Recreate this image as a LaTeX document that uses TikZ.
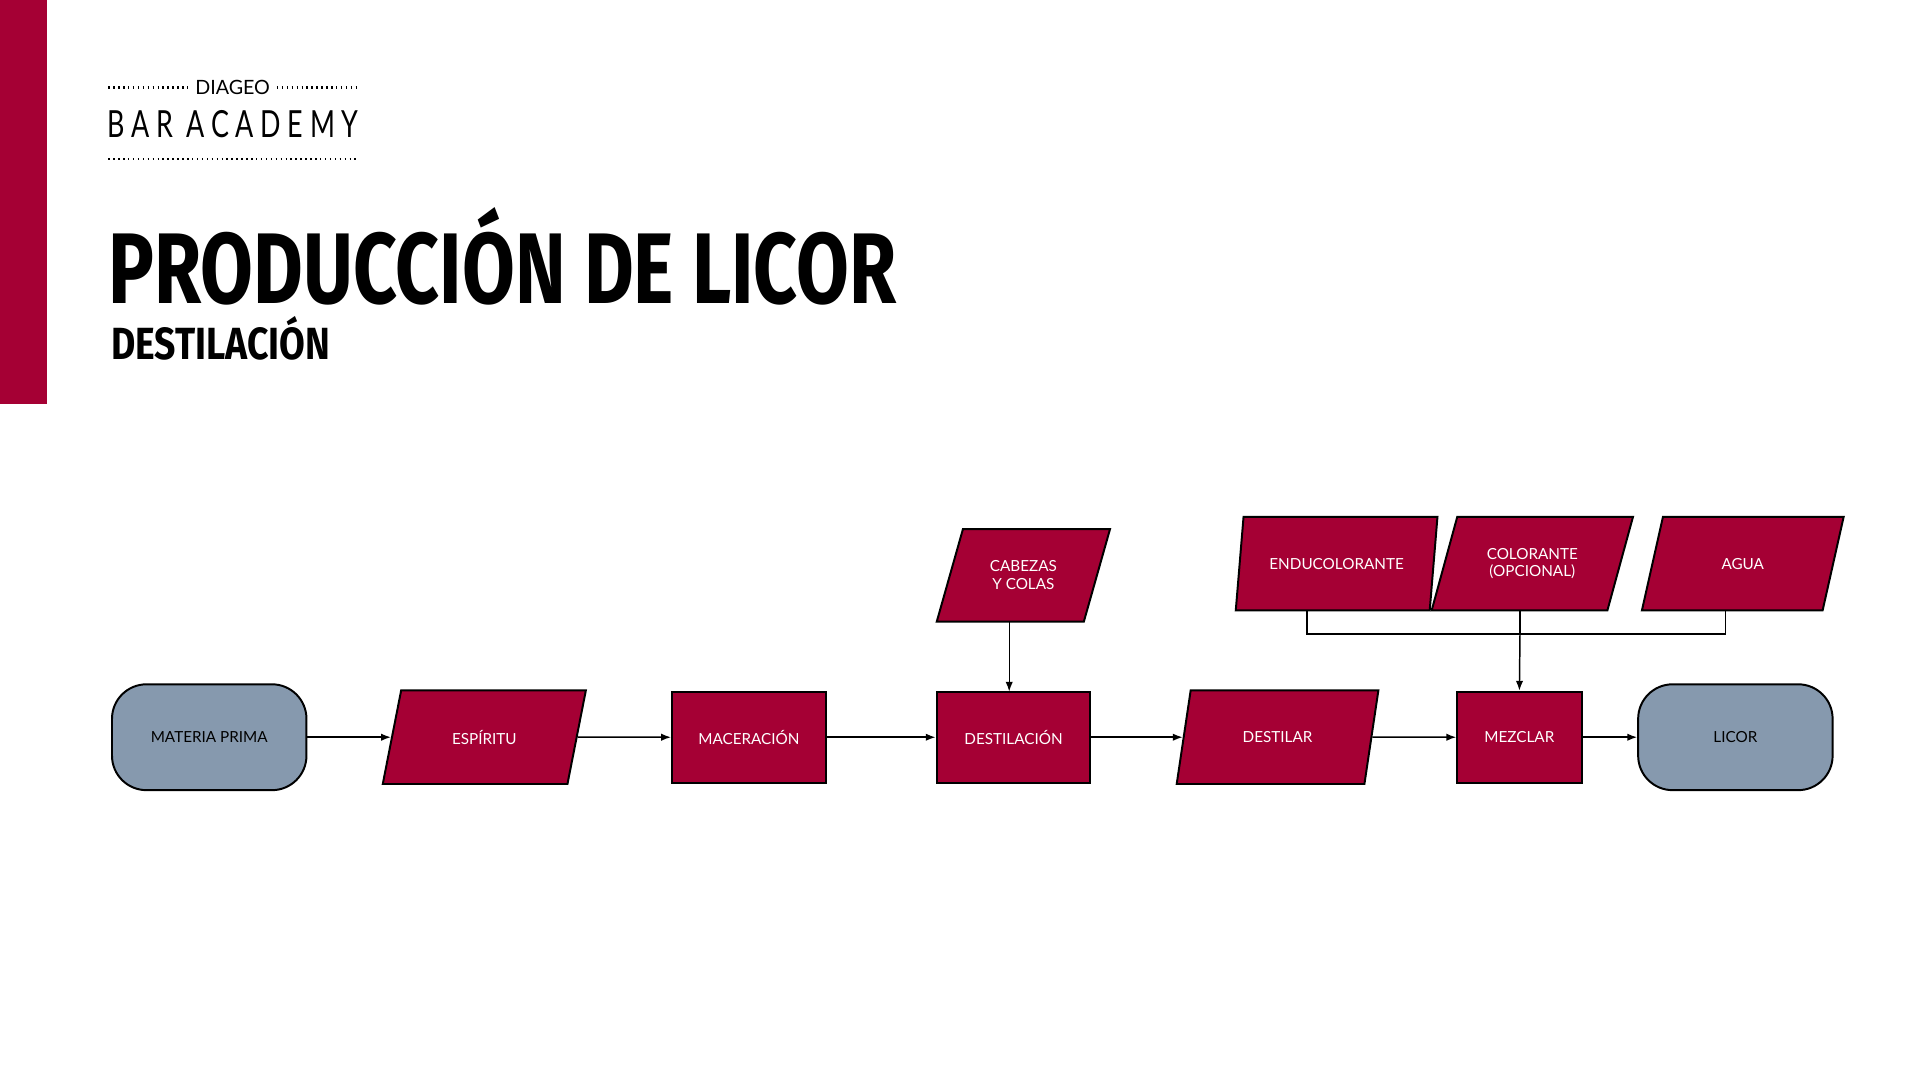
\documentclass[tikz,border=0pt]{standalone}
\usepackage{fontspec}
\setmainfont{Lato}
\newfontfamily\titlefont{Fira Sans}
\usetikzlibrary{shapes.geometric,arrows.meta}
\definecolor{wine}{HTML}{A50034}
\definecolor{slate}{HTML}{8699AE}
\tikzset{
  base/.style={draw=black,line width=0.8pt,text=white,font=\fontsize{6.2}{7.2}\selectfont,align=center,inner sep=0pt},
  para/.style={base,fill=wine,trapezium,trapezium left angle=63.4,trapezium right angle=116.6,trapezium stretches=true,minimum width=63.5pt,minimum height=38pt},
  boxr/.style={base,fill=wine,rectangle,minimum height=37pt},
  term/.style={base,fill=slate,text=black,rectangle,rounded corners=14pt,minimum width=79pt,minimum height=43pt},
  conn/.style={-{Latex[length=4pt,width=3pt]},line width=0.6pt},
  dotl/.style={line width=1pt,dash pattern=on 0.6pt off 1.4pt}
}
\begin{document}
\begin{tikzpicture}[x=0.5pt,y=-0.5pt]
\useasboundingbox (0,0) rectangle (1560,877.5);
\fill[white] (0,0) rectangle (1560,877.5);
\fill[wine] (0,0) rectangle (38,328);
% logo
\node[font=\fontsize{8}{9}\selectfont] (diageo) at (189,71) {DIAGEO};
\draw[dotl] (88,71) -- (153,71);
\draw[dotl] (225,71) -- (290,71);
\node[anchor=south west,inner sep=0pt] (bar) at (87,112) {\resizebox{102pt}{11pt}{\addfontfeature{LetterSpace=25}BAR ACADEMY}};
\draw[dotl] (88,129) -- (290,129);
% titles
\node[anchor=south west,inner sep=0pt] (title) at (88,248) {\resizebox{320pt}{39pt}{\titlefont\fontseries{b}\selectfont PRODUCCIÓN DE LICOR}};
\node[anchor=south west,inner sep=0pt] (sub) at (90,293) {\resizebox{89pt}{17.5pt}{\titlefont\fontseries{b}\selectfont DESTILACIÓN}};
% nodes
\node[term] (mp) at (170,599) {MATERIA PRIMA};
\node[para,minimum width=82.5pt] (esp) at (393.5,599) {ESPÍRITU};
\node[boxr,minimum width=62.5pt] (mac) at (608.5,599) {MACERACIÓN};
\node[boxr,minimum width=62.5pt] (des) at (823.5,599) {DESTILACIÓN};
\node[para,minimum width=70.5pt,minimum height=37.5pt] (cab) at (831.5,467.5) {CABEZAS\\Y COLAS};
\node[para,minimum width=82pt] (dst) at (1038,599) {DESTILAR};
\node[boxr,minimum width=50.5pt] (mez) at (1234.5,599) {MEZCLAR};
\node[term] (lic) at (1410,599) {LICOR};
\node[para,minimum width=82pt] (end) at (1086,458) {ENDUCOLORANTE};
\node[para,minimum width=82pt] (col) at (1245,458) {COLORANTE\\(OPCIONAL)};
\node[para,minimum width=82pt] (agu) at (1416,458) {AGUA};
% connectors
\draw[conn] (mp) -- (esp);
\draw[conn] (esp) -- (mac);
\draw[conn] (mac) -- (des);
\draw[conn] (des) -- (dst);
\draw[conn] (dst) -- (mez);
\draw[conn] (mez) -- (lic);
\draw[conn] (820,505) -- (820,562);
\coordinate (j) at (1235,515);
\draw[line width=0.6pt] (1062,496) |- (j) -| (1402,496);
\draw[line width=0.6pt] (1235,496) -- (j);
\draw[conn] (j) -- (mez.north);
\end{tikzpicture}
\end{document}
